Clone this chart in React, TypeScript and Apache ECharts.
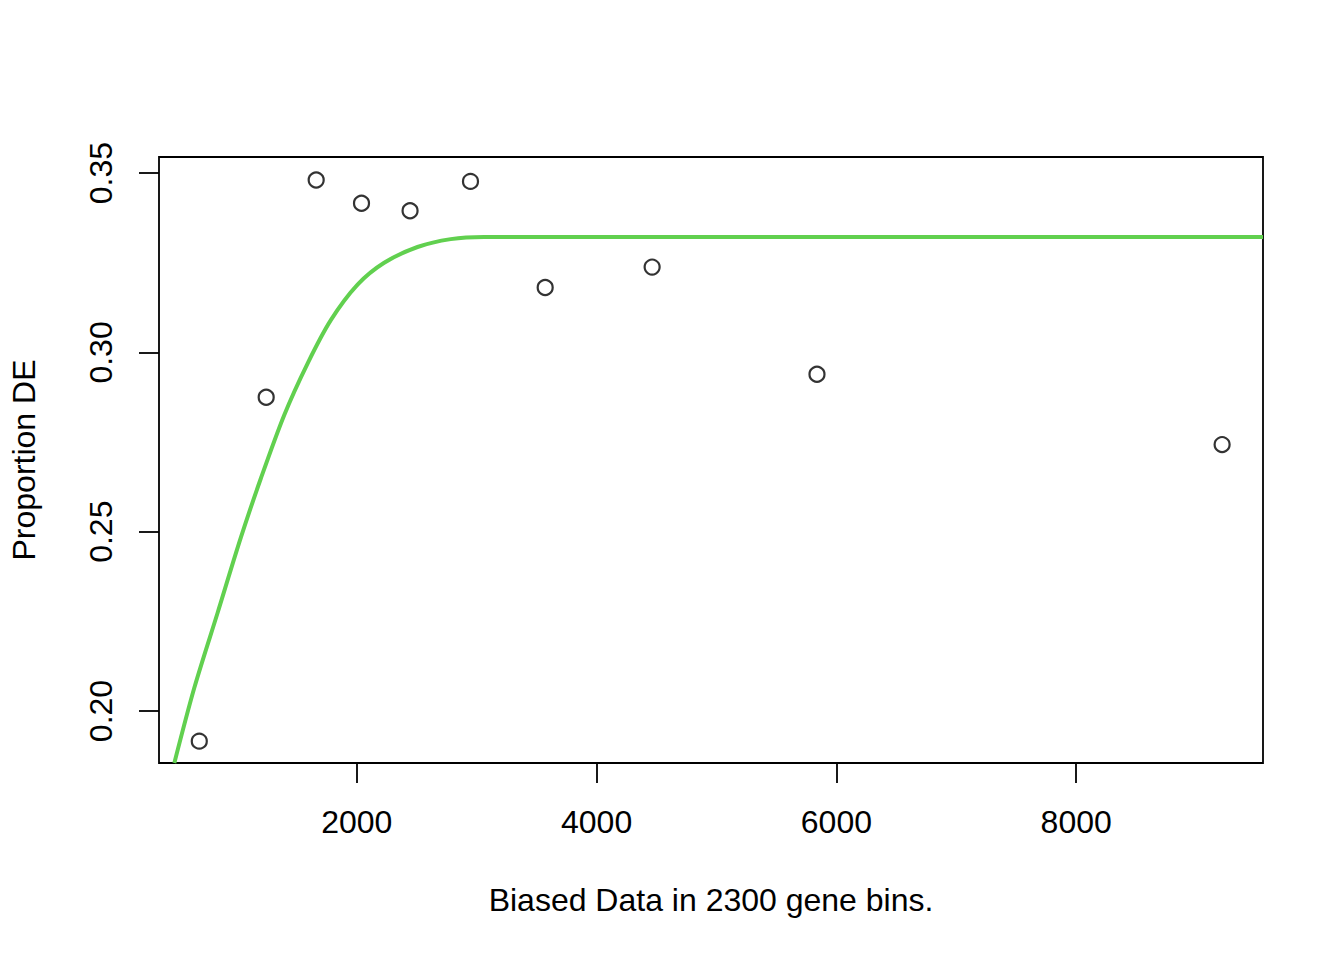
import React, { useEffect, useRef } from "react";
import * as echarts from "echarts";

// Observed points (bin median length, proportion DE)
const pointX = [686, 1244, 1661, 2039, 2444, 2948, 3571, 4463, 5838, 9217];
const pointY = [0.1916, 0.2875, 0.3481, 0.3416, 0.3395, 0.3477, 0.3181, 0.3238, 0.2939, 0.2743];

// Fitted curve
const curveX = [478, 644, 839, 1033, 1200, 1394, 1589, 1783, 2006, 2228, 2506, 2783, 3061, 4000, 6000, 8000, 9558];
const curveY = [0.1855, 0.2064, 0.2274, 0.2484, 0.2649, 0.2825, 0.2969, 0.309, 0.3189, 0.325, 0.3294, 0.3316, 0.3322, 0.3322, 0.3322, 0.3322, 0.3322];

const xTicks = [2000, 4000, 6000, 8000];
const yTicks = [0.2, 0.25, 0.3, 0.35];

const X_MIN = 350;
const X_MAX = 9558;
const Y_MIN = 0.1855;
const Y_MAX = 0.3545;

const FONT = "'Liberation Sans', Arial, Helvetica, sans-serif";

export default function App() {
  const ref = useRef<HTMLDivElement>(null);
  useEffect(() => {
    if (!ref.current) return;
    const chart = echarts.init(ref.current, undefined, { renderer: "svg" });
    chart.setOption({
      animation: false,
      backgroundColor: "#ffffff",
      grid: {
        left: 158,
        top: 157,
        width: 1105,
        height: 606,
        show: true,
        borderColor: "#000",
        borderWidth: 1.8,
        backgroundColor: "transparent",
      },
      xAxis: {
        type: "value",
        min: X_MIN,
        max: X_MAX,
        name: "Biased Data in 2300 gene bins.",
        nameLocation: "middle",
        nameGap: 121,
        nameTextStyle: { fontFamily: FONT, fontSize: 32, color: "#000" },
        axisLine: { show: false },
        splitLine: { show: false },
        axisTick: {
          show: true,
          length: 20,
          customValues: xTicks,
          lineStyle: { color: "#000", width: 1.8 },
        },
        axisLabel: {
          customValues: xTicks,
          margin: 43,
          fontFamily: FONT,
          fontSize: 32,
          color: "#000",
          formatter: (v: number) => String(v),
        },
      },
      yAxis: {
        type: "value",
        min: Y_MIN,
        max: Y_MAX,
        name: "Proportion DE",
        nameLocation: "middle",
        nameGap: 119,
        nameRotate: 90,
        nameTextStyle: { fontFamily: FONT, fontSize: 32, color: "#000" },
        axisLine: { show: false },
        splitLine: { show: false },
        axisTick: {
          show: true,
          length: 20,
          customValues: yTicks,
          lineStyle: { color: "#000", width: 1.8 },
        },
        axisLabel: {
          customValues: yTicks,
          rotate: 90,
          margin: 42,
          fontFamily: FONT,
          fontSize: 32,
          color: "#000",
          formatter: (v: number) => v.toFixed(2),
        },
      },
      series: [
        {
          type: "scatter",
          data: pointX.map((x, i) => [x, pointY[i]]),
          symbol: "circle",
          symbolSize: 15,
          itemStyle: { color: "rgba(0,0,0,0)", borderColor: "#000", borderWidth: 2.2 },
          z: 2,
        },
        {
          type: "line",
          data: curveX.map((x, i) => [x, curveY[i]]),
          showSymbol: false,
          smooth: 0.3,
          clip: true,
          lineStyle: { color: "#61D04F", width: 4 },
          z: 3,
        },
      ],
    });
    return () => chart.dispose();
  }, []);
  return (
    <div
      ref={ref}
      style={{ position: "fixed", left: 0, top: 0, width: 1344, height: 960, background: "#fff" }}
    />
  );
}
